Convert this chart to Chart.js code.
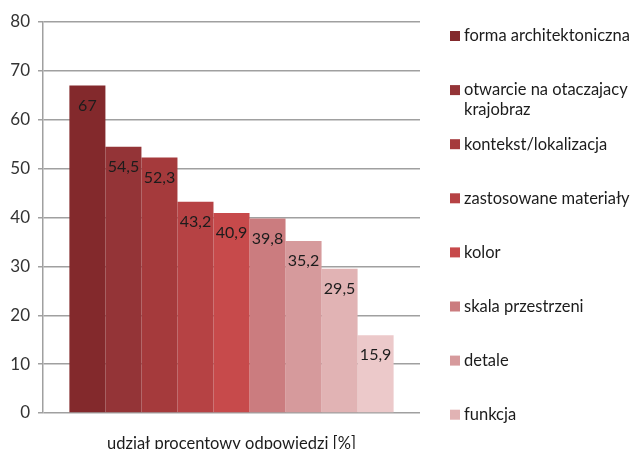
<!DOCTYPE html>
<html lang="pl">
<head>
    <meta charset="UTF-8">
    <title>Udział procentowy odpowiedzi</title>
    <script src="https://cdn.jsdelivr.net/npm/chart.js"></script>
    <style>
        html, body { margin: 0; padding: 0; background: #fff; }
        #wrap { width: 634px; height: 449px; position: relative; }
    </style>
</head>
<body>
    <div id="wrap"><canvas id="answersChart"></canvas></div>

    <script>
        const category = ['udział procentowy odpowiedzi [%]'];
        const seriesNames = [
            'forma architektoniczna',
            'otwarcie na otaczajacy\nkrajobraz',
            'kontekst/lokalizacja',
            'zastosowane materiały',
            'kolor',
            'skala przestrzeni',
            'detale',
            'funkcja',
            ''   // ninth entry of the legend falls outside the picture
        ];
        const seriesValues = [67, 54.5, 52.3, 43.2, 40.9, 39.8, 35.2, 29.5, 15.9];
        const seriesColors = ['#83292c', '#943437', '#a53a3c', '#b64244', '#c74a4b',
                              '#cb7c7f', '#d69a9c', '#e1b3b4', '#ecc9ca'];
        const yTicks = [0, 10, 20, 30, 40, 50, 60, 70, 80];

        const FONT = 'Lato, "Open Sans", sans-serif';
        const TEXT = '#1c1c1c';

        // value labels just under the top of every bar
        const barLabels = {
            id: 'barLabels',
            afterDatasetsDraw(chart) {
                const ctx = chart.ctx;
                ctx.save();
                ctx.font = '16px ' + FONT;
                ctx.fillStyle = TEXT;
                ctx.textAlign = 'center';
                ctx.textBaseline = 'middle';
                chart.data.datasets.forEach((ds, i) => {
                    const bar = chart.getDatasetMeta(i).data[0];
                    ctx.fillText(String(ds.data[0]).replace('.', ','), bar.x, bar.y + 20);
                });
                ctx.restore();
            }
        };

        // legend on the right, one entry per series, like the source
        const sideLegend = {
            id: 'sideLegend',
            afterDraw(chart) {
                const ctx = chart.ctx;
                ctx.save();
                ctx.font = '16.5px ' + FONT;
                ctx.textBaseline = 'middle';
                chart.data.datasets.forEach((ds, i) => {
                    const y = 36 + i * 54.1;
                    ctx.fillStyle = ds.backgroundColor;
                    ctx.fillRect(450, y - 5, 10, 10);
                    ctx.fillStyle = TEXT;
                    ds.label.split('\n').forEach((line, k) => {
                        ctx.fillText(line, 464, y + k * 20);
                    });
                });
                ctx.restore();
            }
        };

        new Chart(document.getElementById('answersChart'), {
            type: 'bar',
            data: {
                labels: category,
                datasets: seriesNames.map((name, i) => ({
                    label: name,
                    data: [seriesValues[i]],
                    backgroundColor: seriesColors[i],
                    borderWidth: 0,
                    categoryPercentage: 0.86,
                    barPercentage: 1
                }))
            },
            options: {
                responsive: true,
                maintainAspectRatio: false,
                animation: false,
                events: [],
                layout: { padding: { top: 22, right: 214, left: 0, bottom: 0 } },
                plugins: {
                    legend: { display: false },
                    tooltip: { enabled: false }
                },
                scales: {
                    x: {
                        grid: { display: false },
                        border: { display: false },
                        ticks: { color: TEXT, font: { family: FONT, size: 16.5 }, padding: 13 },
                        afterFit: s => { s.height = 36; }
                    },
                    y: {
                        min: 0,
                        max: 80,
                        afterBuildTicks: s => { s.ticks = yTicks.map(v => ({ value: v })); },
                        grid: { color: '#a0a0a0', lineWidth: 1.5, tickLength: 5 },
                        border: { color: '#a0a0a0', width: 1.5 },
                        ticks: { color: '#333333', font: { family: FONT, size: 17 }, padding: 8 },
                        afterFit: s => { s.width = 43; }
                    }
                }
            },
            plugins: [barLabels, sideLegend]
        });
    </script>
</body>
</html>
